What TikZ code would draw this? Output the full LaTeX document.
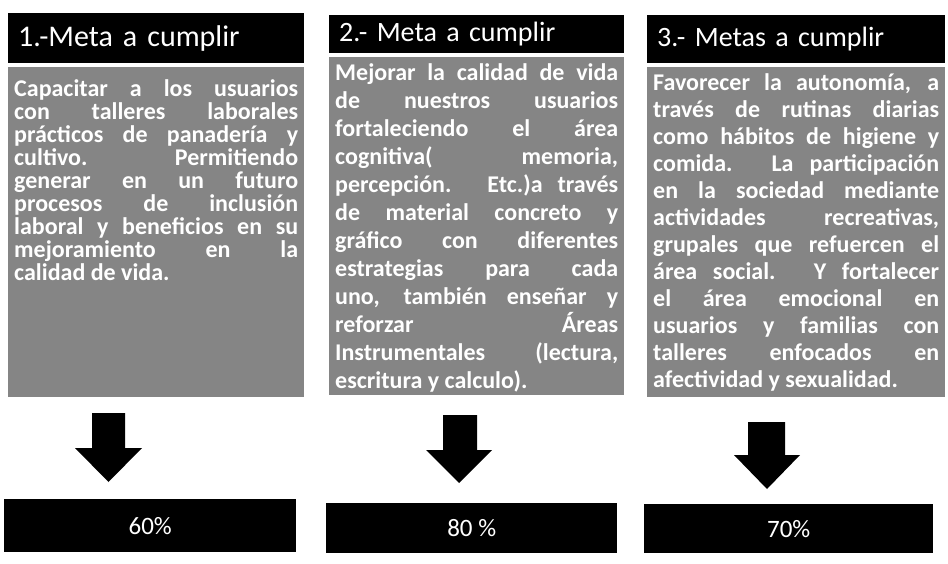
\documentclass[tikz,border=0pt]{standalone}
\usepackage{fontspec}
\setmainfont{Carlito}
\usetikzlibrary{calc}
\hyphenpenalty=10000
\tolerance=10000
\hbadness=10000
\tikzset{
  hdr/.style={fill=black, text=white, anchor=north west, inner xsep=10pt, inner ysep=0pt,
    align=left, font=\fontsize{28}{30}\selectfont},
  bodybox/.style={fill=black!48, anchor=north west, inner sep=0pt},
  btext/.style={text=white, anchor=north, inner sep=0pt, align=justify,
    font=\bfseries\fontsize{24}{#1}\selectfont},
  result/.style={fill=black, text=white, anchor=north west, inner sep=0pt,
    font=\fontsize{25}{27}\selectfont},
  blockarrow/.style={fill=black}
}
\begin{document}
\begin{tikzpicture}[x=1pt,y=-1pt]
\useasboundingbox (0,0) rectangle (948,564);

% headers
\node[hdr, text width=276pt, minimum height=50pt, font=\fontsize{30}{32}\selectfont] (h1) at (8,13) {1.-Meta a cumplir};
\node[hdr, text width=275pt, minimum height=38pt] (h2) at (329,15) {2.- Meta a cumplir};
\node[hdr, text width=278pt, minimum height=48pt] (h3) at (647,15) {3.- Metas a cumplir};

% bodies
\node[bodybox, minimum width=296pt, minimum height=330pt] (b1) at (8,67) {};
\node[bodybox, minimum width=295pt, minimum height=338pt] (b2) at (329,57) {};
\node[bodybox, minimum width=298pt, minimum height=330pt] (b3) at (647,67) {};

\node[btext=23, text width=284pt] (t1) at ($(b1.north)+(0,12)$) {%
Capacitar a los usuarios\linebreak
con talleres laborales\linebreak
prácticos de panadería y\linebreak
cultivo. Permitiendo\linebreak
generar en un futuro\linebreak
procesos de inclusión\linebreak
laboral y beneficios en su\linebreak
mejoramiento en la\linebreak
calidad de vida.};

\node[btext=28, text width=283pt] (t2) at ($(b2.north)+(0,6)$) {%
Mejorar la calidad de vida\linebreak
de nuestros usuarios\linebreak
fortaleciendo el área\linebreak
cognitiva( memoria,\linebreak
percepción. Etc.)a través\linebreak
de material concreto y\linebreak
gráfico con diferentes\linebreak
estrategias para cada\linebreak
uno, también enseñar y\linebreak
reforzar Áreas\linebreak
Instrumentales (lectura,\linebreak
escritura y calculo).};

\node[btext=27, text width=286pt] (t3) at ($(b3.north)+(0,6)$) {%
Favorecer la autonomía, a\linebreak
través de rutinas diarias\linebreak
como hábitos de higiene y\linebreak
comida. La participación\linebreak
en la sociedad mediante\linebreak
actividades recreativas,\linebreak
grupales que refuercen el\linebreak
área social. Y fortalecer\linebreak
el área emocional en\linebreak
usuarios y familias con\linebreak
talleres enfocados en\linebreak
afectividad y sexualidad.};

% block arrows
\fill[blockarrow] (92,413) -- (125,413) -- (125,448) -- (142,448) -- (108.5,482)
  -- (75,448) -- (92,448) -- cycle;
\fill[blockarrow] (443,415) -- (477,415) -- (477,450) -- (492,450) -- (459,483)
  -- (426,450) -- (443,450) -- cycle;
\fill[blockarrow] (748,422) -- (785,422) -- (785,455) -- (800,455) -- (767,489)
  -- (734,455) -- (748,455) -- cycle;

% results
\node[result, minimum width=292pt, minimum height=53pt] (r1) at (4,499) {60\%};
\node[result, minimum width=291pt, minimum height=50pt] (r2) at (326,503) {80 \%};
\node[result, minimum width=289pt, minimum height=49pt] (r3) at (644,504) {70\%};
\end{tikzpicture}
\end{document}
